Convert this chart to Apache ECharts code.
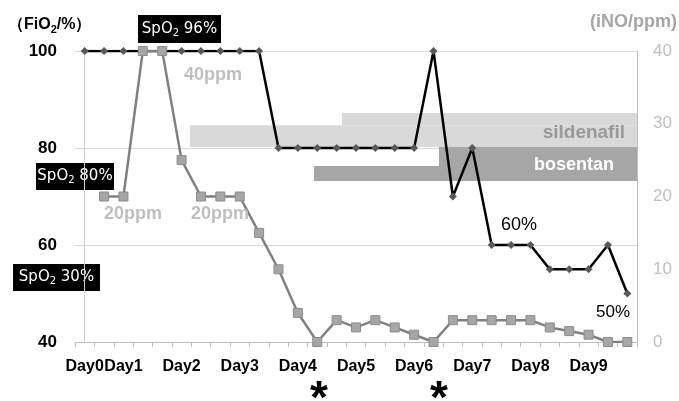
<!DOCTYPE html>
<html>
<head>
<meta charset="utf-8">
<script src="https://cdn.jsdelivr.net/npm/echarts@6/dist/echarts.min.js"></script>
<style>
  html, body { margin: 0; padding: 0; background: #fff; }
  #chart { width: 679px; height: 401px; }
</style>
</head>
<body>
<div id="chart"></div>
<script>
// x categories (one per measurement), only some carry a day label
var dayLabels = ['Day0', '', 'Day1', '', '', 'Day2', '', '', 'Day3', '', '', 'Day4', '', '', 'Day5',
  '', '', 'Day6', '', '', 'Day7', '', '', 'Day8', '', '', 'Day9', '', ''];
// FiO2 (%), left axis
var fio2 = [100, 100, 100, 100, 100, 100, 100, 100, 100, 100,
  80, 80, 80, 80, 80, 80, 80, 80,
  100, 70, 80, 60, 60, 60, 55, 55, 55, 60, 50];
// iNO (ppm), right axis
var ino = [null, 20, 20, 40, 40, 25, 20, 20, 20, 15, 10, 4, 0, 3, 2, 3, 2, 1, 0,
  3, 3, 3, 3, 3, 2, 1.5, 1, 0, 0];
// drug bands: [start, end, low, high] in (category index, FiO2) units
var sildenafilBands = [[5.43, 28.5, 80.2, 84.7], [13.28, 28.5, 84.7, 87.2]];
var bosentanBands = [[11.83, 28.5, 73.2, 76.3], [18.28, 28.5, 76.3, 80.2]];

var FONT = 'Liberation Sans';
var BOX_FONT = 'DejaVu Sans';

function bandItem(color) {
  return function (params, api) {
    var p0 = api.coord([api.value(0), api.value(3)]);
    var p1 = api.coord([api.value(1), api.value(2)]);
    return {
      type: 'rect',
      shape: { x: p0[0], y: p0[1], width: p1[0] - p0[0], height: p1[1] - p0[1] },
      style: { fill: color }
    };
  };
}

// black box with white SpO2 text
function spo2Box(x, y, w, h, val) {
  return {
    type: 'group', left: x, top: y,
    children: [
      { type: 'rect', shape: { x: 0, y: 0, width: w, height: h }, style: { fill: '#000' } },
      {
        type: 'text', x: w / 2, y: h / 2,
        style: {
          text: '{a|SpO}{s|2}{a| ' + val + '}',
          align: 'center', verticalAlign: 'middle',
          rich: {
            a: { fill: '#fff', fontSize: 15, fontFamily: BOX_FONT },
            s: { fill: '#fff', fontSize: 10, fontFamily: BOX_FONT, padding: [8, 0, 0, 0] }
          }
        }
      }
    ]
  };
}

function note(x, y, txt, color, opts) {
  opts = opts || {};
  return {
    type: 'text', x: x, y: y, z: 100,
    style: {
      text: txt, fill: color,
      font: (opts.weight || 'bold') + ' ' + (opts.size || 18) + 'px "' + FONT + '"',
      align: opts.align || 'left', verticalAlign: 'middle'
    }
  };
}

var chart = echarts.init(document.getElementById('chart'));
chart.setOption({
  animation: false,
  backgroundColor: '#fff',
  grid: { left: 75, right: 42, top: 51, bottom: 59 },
  xAxis: [{
    type: 'category',
    data: dayLabels,
    boundaryGap: true,
    axisLine: { lineStyle: { color: '#bfbfbf' } },
    axisTick: { show: true, interval: 0, length: 5, lineStyle: { color: '#bfbfbf' } },
    axisLabel: { interval: 0, margin: 17, color: '#000', fontWeight: 'bold', fontSize: 16, fontFamily: FONT }
  }, {
    type: 'value', min: -0.5, max: 28.5, show: false
  }],
  yAxis: [{
    type: 'value', min: 40, max: 100, interval: 20,
    axisLine: { show: true, lineStyle: { color: '#d0d0d0' } },
    axisTick: { show: false },
    splitLine: { lineStyle: { color: '#d9d9d9' } },
    axisLabel: { margin: 18, color: '#000', fontWeight: 'bold', fontSize: 17, fontFamily: FONT }
  }, {
    type: 'value', min: 0, max: 40, interval: 10,
    axisLine: { show: true, lineStyle: { color: '#bfbfbf' } },
    axisTick: { show: false },
    splitLine: { show: false },
    axisLabel: { margin: 16, color: '#bfbfbf', fontSize: 17, fontFamily: FONT }
  }],
  series: [{
    name: 'sildenafil', type: 'custom', xAxisIndex: 1, yAxisIndex: 0, z: 1,
    renderItem: bandItem('#d9d9d9'), encode: { x: [0, 1], y: [2, 3] },
    data: sildenafilBands
  }, {
    name: 'bosentan', type: 'custom', xAxisIndex: 1, yAxisIndex: 0, z: 1,
    renderItem: bandItem('#a6a6a6'), encode: { x: [0, 1], y: [2, 3] },
    data: bosentanBands
  }, {
    name: 'FiO2', type: 'line', yAxisIndex: 0, z: 3,
    data: fio2,
    symbol: 'diamond', symbolSize: 8,
    lineStyle: { color: '#000', width: 2.5 },
    itemStyle: { color: '#595959' }
  }, {
    name: 'iNO', type: 'line', yAxisIndex: 1, z: 4,
    data: ino,
    symbol: 'rect', symbolSize: 9,
    lineStyle: { color: '#808080', width: 2.5 },
    itemStyle: { color: '#a6a6a6', borderColor: '#8c8c8c', borderWidth: 1 }
  }],
  graphic: [
    {
      type: 'text', x: 8, y: 25,
      style: {
        text: '{a|（FiO}{s|2}{a|/%）}', verticalAlign: 'middle',
        rich: {
          a: { fill: '#000', fontSize: 16, fontWeight: 'bold', fontFamily: FONT },
          s: { fill: '#000', fontSize: 11, fontWeight: 'bold', fontFamily: FONT, padding: [9, 0, 0, 0] }
        }
      }
    },
    note(677, 22, '(iNO/ppm)', '#a6a6a6', { size: 18, align: 'right' }),
    spo2Box(138, 15, 83, 28, '96%'),
    spo2Box(36, 163, 78, 27, '80%'),
    spo2Box(13, 264, 87, 27, '30%'),
    note(184, 75, '40ppm', '#bfbfbf'),
    note(104, 214, '20ppm', '#bfbfbf'),
    note(191, 214, '20ppm', '#bfbfbf'),
    note(625, 133, 'sildenafil', '#999999', { align: 'right', size: 19 }),
    note(614, 165, 'bosentan', '#ffffff', { align: 'right' }),
    note(501, 225, '60%', '#000', { weight: 'normal' }),
    note(596, 312, '50%', '#000', { weight: 'normal', size: 17 }),
    note(319, 400, '*', '#000', { size: 46, align: 'center' }),
    note(439, 400, '*', '#000', { size: 46, align: 'center' })
  ]
});
</script>
</body>
</html>
